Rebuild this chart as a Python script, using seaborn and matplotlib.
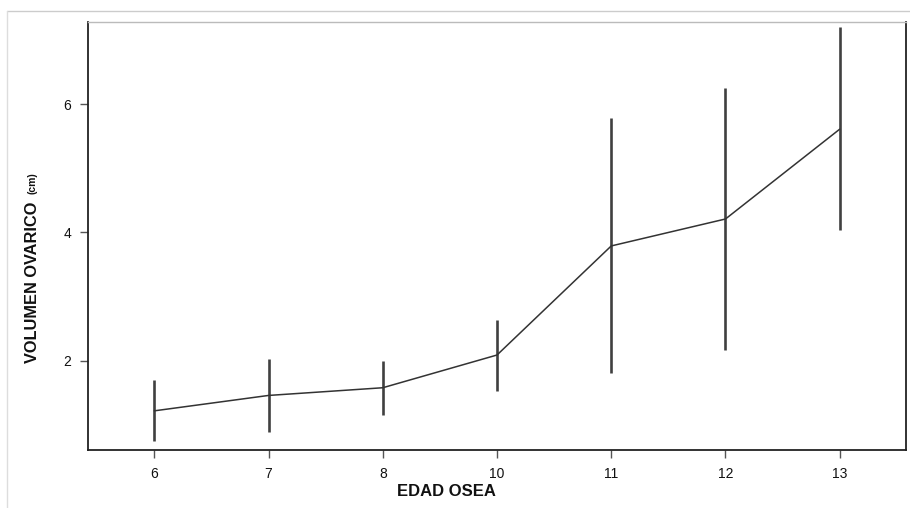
import matplotlib
matplotlib.use('Agg')
import matplotlib.pyplot as plt
import seaborn as sns
import pandas as pd
from matplotlib.lines import Line2D

edad = ['6', '7', '8', '10', '11', '12', '13']
media = [1.22, 1.46, 1.58, 2.09, 3.79, 4.21, 5.61]
inferior = [0.75, 0.89, 1.15, 1.53, 1.81, 2.17, 4.04]
superior = [1.70, 2.03, 2.00, 2.63, 5.79, 6.25, 7.20]

df = pd.DataFrame({'edad': edad, 'media': media, 'inf': inferior, 'sup': superior})

sns.set_style('white')
plt.rcParams['font.family'] = ['Liberation Sans', 'DejaVu Sans']

fig = plt.figure(figsize=(9.1, 5.08), dpi=100)
ax = fig.add_axes([0.0967, 0.1142, 0.8989, 0.8425])

ax.vlines(range(len(df)), df['inf'], df['sup'], color='#404040', linewidth=1.9, zorder=2)
sns.lineplot(data=df, x='edad', y='media', ax=ax, color='#333333', linewidth=1.1,
             sort=False, zorder=3)

ax.set_xlim(-0.58, 6.58)
ax.set_ylim(0.61, 7.28)
ax.set_yticks([2, 4, 6])
ax.set_yticklabels(['2', '4', '6'])

for s in ['left', 'bottom', 'right']:
    ax.spines[s].set_color('#222222')
    ax.spines[s].set_linewidth(1.3)
ax.spines['top'].set_color('#bbbbbb')
ax.spines['top'].set_linewidth(1.0)

ax.tick_params(axis='both', which='both', direction='out', length=6, width=1,
               color='#555555', labelsize=10, labelcolor='#111111', pad=6,
               left=True, bottom=True)

ax.set_xlabel('EDAD OSEA', fontsize=12, fontweight='bold', color='#111111', va='center')
ax.xaxis.set_label_coords(0.438, -0.096)
ax.set_ylabel('')

# etiqueta del eje y en dos partes
fig.text(0.036, 0.285, 'VOLUMEN OVARICO', rotation=90, ha='center', va='bottom',
         fontsize=11.8, fontweight='bold', color='#111111')
fig.text(0.036, 0.618, '(cm)', rotation=90, ha='center', va='bottom',
         fontsize=7.5, fontweight='bold', color='#111111')

# marco exterior claro
fig.add_artist(Line2D([0.008, 1.0], [0.978, 0.978], color='#cccccc', linewidth=1.0))
fig.add_artist(Line2D([0.008, 0.008], [0.0, 0.978], color='#dddddd', linewidth=1.0))

fig.savefig('out.png', dpi=100)
